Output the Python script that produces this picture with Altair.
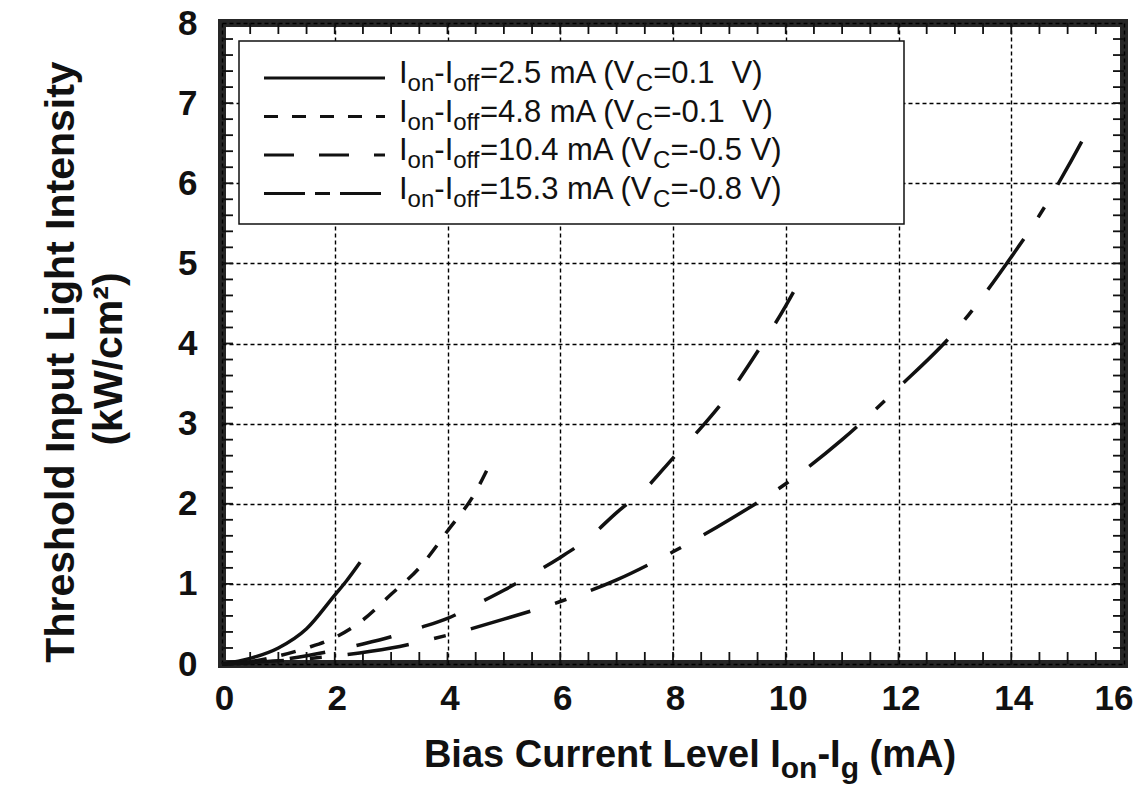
import altair as alt
import pandas as pd

# ---------------- data ----------------
# Ion-Ioff = 2.5 mA (Vc = 0.1 V)
S1_X = [0, 0.5, 1.0, 1.5, 2.0, 2.2, 2.45]
S1_Y = [0, 0.07, 0.20, 0.44, 0.86, 1.03, 1.27]
# Ion-Ioff = 4.8 mA (Vc = -0.1 V)
S2_X = [0, 0.5, 1.0, 1.5, 2.0, 2.5, 3.0, 3.5, 4.0, 4.5, 4.72]
S2_Y = [0, 0.03, 0.10, 0.20, 0.33, 0.55, 0.87, 1.20, 1.66, 2.15, 2.45]
# Ion-Ioff = 10.4 mA (Vc = -0.5 V)
S3_X = [0, 1, 2, 2.5, 3, 3.5, 4, 4.5, 5, 5.5, 6, 6.5, 7, 7.5, 8, 8.5, 9, 9.5, 10, 10.3]
S3_Y = [0, 0.05, 0.17, 0.25, 0.34, 0.45, 0.57, 0.74, 0.92, 1.12, 1.33, 1.57, 1.89, 2.18,
        2.57, 2.95, 3.38, 3.90, 4.47, 4.85]
# Ion-Ioff = 15.3 mA (Vc = -0.8 V)
S4_X = [0, 1, 2, 3, 4, 5, 6, 7, 8, 9, 10, 11, 12, 13, 14, 14.5, 15, 15.25]
S4_Y = [0, 0.04, 0.10, 0.20, 0.36, 0.56, 0.78, 1.05, 1.40, 1.80, 2.25, 2.80, 3.45, 4.15,
        5.08, 5.60, 6.20, 6.52]

X_TICKS = [0, 2, 4, 6, 8, 10, 12, 14, 16]
Y_TICKS = [0, 1, 2, 3, 4, 5, 6, 7, 8]
X_MINOR = [i * 0.5 for i in range(1, 32)]
Y_MINOR = [round(i * 0.2, 1) for i in range(1, 40)]

# legend labels: (text, is_subscript)
LEGEND_LABELS = [
    [("I", False), ("on", True), ("-I", False), ("off", True), ("=2.5 mA (V", False), ("C", True), ("=0.1\u00a0 V)", False)],
    [("I", False), ("on", True), ("-I", False), ("off", True), ("=4.8 mA (V", False), ("C", True), ("=-0.1\u00a0 V)", False)],
    [("I", False), ("on", True), ("-I", False), ("off", True), ("=10.4 mA (V", False), ("C", True), ("=-0.5 V)", False)],
    [("I", False), ("on", True), ("-I", False), ("off", True), ("=15.3 mA (V", False), ("C", True), ("=-0.8 V)", False)],
]
X_TITLE = [("Bias Current Level I", False), ("on", True), ("-I", False), ("g", True), (" (mA)", False)]
Y_TITLE_1 = "Threshold Input Light Intensity"
Y_TITLE_2 = "(kW/cm\u00b2)"

# ---------------- layout / style ----------------
W, H = 902, 641
FONT = "Liberation Sans, Arial, Helvetica, sans-serif"
INK = "#111111"

CURVE_DASH = [None, [15, 15], [36, 32], [62, 26, 12, 26]]
LEGEND_DASH = [None, [14, 14], [30, 25], [41, 10, 15, 10]]

xs = alt.Scale(domain=[0, 16], nice=False, zero=False)
ys = alt.Scale(domain=[0, 8], nice=False, zero=False)

x_axis = alt.Axis(values=X_TICKS, format="d", grid=True, gridColor="#000", gridDash=[4, 3],
                  gridWidth=1.4, gridOpacity=1, domain=False, ticks=False, labelFontSize=35,
                  labelFont=FONT, labelFontWeight="bold", labelColor=INK, labelPadding=17,
                  labelFlush=False, labelOverlap=False,
                  labelAlign={"condition": {"test": "datum.value == 16", "value": "right"},
                              "value": "center"},
                  labelOffset={"condition": {"test": "datum.value == 16", "value": 9},
                               "value": 2})
y_axis = alt.Axis(values=Y_TICKS, format="d", grid=True, gridColor="#000", gridDash=[4, 3],
                  gridWidth=1.4, gridOpacity=1, domain=False, ticks=False, labelFontSize=35,
                  labelFont=FONT, labelFontWeight="bold", labelColor=INK, labelPadding=25,
                  labelFlush=False, labelOverlap=False)


def XE(field="x"):
    return alt.X(f"{field}:Q", scale=xs, axis=x_axis, title=None)


def YE(field="y"):
    return alt.Y(f"{field}:Q", scale=ys, axis=y_axis, title=None)


ONE = pd.DataFrame({"k": [0]})

layers = []

# curves
for xv, yv, dash in [(S1_X, S1_Y, CURVE_DASH[0]), (S2_X, S2_Y, CURVE_DASH[1]),
                     (S3_X, S3_Y, CURVE_DASH[2]), (S4_X, S4_Y, CURVE_DASH[3])]:
    kw = dict(color=INK, strokeWidth=3.5, interpolate="monotone")
    if dash:
        kw["strokeDash"] = dash
    layers.append(alt.Chart(pd.DataFrame({"x": xv, "y": yv})).mark_line(**kw).encode(x=XE(), y=YE()))

# inward frame ticks (minor every 0.5 on x, every 0.2 on y)
mx = pd.DataFrame({"x": X_MINOR})
my = pd.DataFrame({"y": Y_MINOR})
TK = dict(color=INK, strokeWidth=1.8)
layers.append(alt.Chart(mx).mark_rule(**TK).encode(x=XE(), y=alt.value(H), y2=alt.value(H - 12)))
layers.append(alt.Chart(mx).mark_rule(**TK).encode(x=XE(), y=alt.value(0), y2=alt.value(11)))
layers.append(alt.Chart(my).mark_rule(**TK).encode(y=YE(), x=alt.value(0), x2=alt.value(11)))
layers.append(alt.Chart(my).mark_rule(**TK).encode(y=YE(), x=alt.value(W), x2=alt.value(W - 11)))

# ---------- text helpers ----------
REG = {" ": 278, "\u00a0": 278, "(": 333, ")": 333, "-": 333, ".": 278, "=": 584, "A": 667,
       "C": 722, "I": 278, "V": 667, "f": 278, "m": 833, "n": 556, "o": 556}
BOLD = {" ": 278, "(": 333, ")": 333, "-": 333, "A": 722, "B": 722, "C": 722, "I": 278, "L": 611,
        "a": 556, "e": 556, "g": 611, "i": 278, "l": 278, "m": 889, "n": 611, "o": 611, "r": 389,
        "s": 556, "t": 333, "u": 611, "v": 556}


def tw(s, size, bold):
    tab = BOLD if bold else REG
    return sum(tab.get(c, 556) for c in s) / 1000.0 * size


def text_run(parts, x0, base, size, sub_size, drop, bold, center=False):
    total = sum(tw(t, sub_size if sb else size, bold) for t, sb in parts)
    x = x0 - total / 2 if center else x0
    out = []
    for t, sb in parts:
        fs = sub_size if sb else size
        lead = len(t) - len(t.lstrip(" "))
        shown = t.strip(" ")
        out.append(alt.Chart(ONE).mark_text(
            text=shown, fontSize=fs, font=FONT, fontWeight="bold" if bold else "normal",
            align="left", baseline="alphabetic", color=INK).encode(
            x=alt.value(x + tw(t[:lead], fs, bold)), y=alt.value(base + (drop if sb else 0))))
        x += tw(t, fs, bold)
    return out


# legend
layers.append(alt.Chart(ONE).mark_rect(fill="white", stroke=INK, strokeWidth=1.5).encode(
    x=alt.value(17), x2=alt.value(682), y=alt.value(18), y2=alt.value(201)))
row_y = [55, 93.5, 132, 170.5]
for i, parts in enumerate(LEGEND_LABELS):
    kw = dict(color=INK, strokeWidth=3)
    if LEGEND_DASH[i]:
        kw["strokeDash"] = LEGEND_DASH[i]
    layers.append(alt.Chart(ONE).mark_rule(**kw).encode(
        x=alt.value(42), x2=alt.value(163), y=alt.value(row_y[i])))
    layers += text_run(parts, 177, row_y[i] + 5, 31, 24, 8, False)

# axis titles
layers += text_run(X_TITLE, 468, 744, 38, 30, 11, True, center=True)
layers.append(alt.Chart(ONE).mark_text(text=Y_TITLE_1, fontSize=41, font=FONT, fontWeight="bold",
                                       angle=270, align="center", baseline="middle", color=INK).encode(
    x=alt.value(-160), y=alt.value(339)))
layers.append(alt.Chart(ONE).mark_text(text=Y_TITLE_2, fontSize=41, font=FONT, fontWeight="bold",
                                       angle=270, align="center", baseline="middle", color=INK).encode(
    x=alt.value(-112), y=alt.value(336)))

chart = alt.layer(*layers).properties(
    width=W, height=H,
    padding={"left": 222, "top": 23, "right": 14, "bottom": 122},
    autosize=alt.AutoSizeParams(type="none"),
    background="white",
).configure_view(stroke="#262626", strokeWidth=8)

chart.save("out.html", embed_options={"renderer": "svg", "actions": False})
